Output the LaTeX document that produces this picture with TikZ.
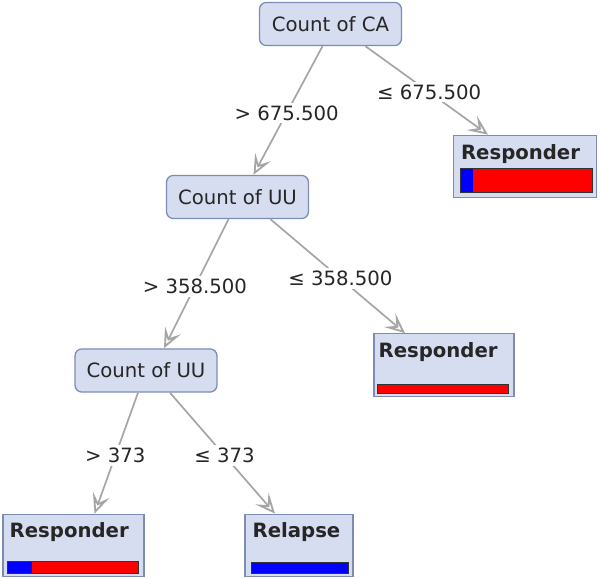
\documentclass[tikz,border=0pt]{standalone}
\usepackage{fontspec}
\setmainfont{DejaVu Sans}
\usetikzlibrary{arrows.meta,calc}
\definecolor{boxfill}{RGB}{214,221,241}
\definecolor{boxline}{RGB}{125,140,180}
\definecolor{edgegray}{RGB}{165,165,165}
\begin{document}
\begin{tikzpicture}[x=0.025cm,y=-0.025cm,every node/.style={font=\fontsize{14}{16}\selectfont,text=black!85},
  split/.style={draw=boxline,line width=0.9pt,fill=boxfill,rounded corners=5pt,minimum width=3.55cm,minimum height=1.08cm,inner sep=0pt},
  leaf/.style={draw=boxline,line width=0.9pt,fill=boxfill,minimum height=1.56cm,inner sep=0pt},
  title/.style={anchor=base west,inner sep=0pt,font=\fontsize{14}{16}\selectfont\bfseries},
  edge/.style={draw=edgegray,line width=1.2pt,-{Stealth[open,length=5mm,width=4.4mm,inset=2.2mm,line width=1.3pt]}},
  lab/.style={fill=white,inner sep=2pt,pos=0.52}]
\useasboundingbox (0,0) rectangle (600,579);
\node[split] (ca) at (330.5,24) {Count of CA};
\node[split] (uu1) at (237.5,197) {Count of UU};
\node[split] (uu2) at (146,370.5) {Count of UU};
\node[leaf,minimum width=3.58cm] (r1) at (525,166.5) {};
\node[leaf,minimum width=3.5cm] (r2) at (444,365) {};
\node[leaf,minimum width=3.52cm] (r3) at (73.5,545.5) {};
\node[leaf,minimum width=2.7cm] (rl) at (299,545.5) {};
\node[title] (t1) at ($(r1.north west)+(8,25)$) {Responder};
\node[title] (t2) at ($(r2.north west)+(5,24)$) {Responder};
\node[title] (t3) at ($(r3.north west)+(7,24)$) {Responder};
\node[title] (t4) at ($(rl.north west)+(8,24)$) {Relapse};
\fill[blue] ($(r1.south west)+(8,-6)$) rectangle ($(r1.south west)+(20,-30)$);
\fill[red] ($(r1.south west)+(20,-6)$) rectangle ($(r1.south east)+(-5,-30)$);
\draw[black!80] ($(r1.south west)+(8,-6)$) rectangle ($(r1.south east)+(-5,-30)$);
\fill[red] ($(r2.south west)+(4,-4)$) rectangle ($(r2.south east)+(-6,-13)$);
\draw[black!80] ($(r2.south west)+(4,-4)$) rectangle ($(r2.south east)+(-6,-13)$);
\fill[blue] ($(r3.south west)+(5,-4)$) rectangle ($(r3.south west)+(30,-16)$);
\fill[red] ($(r3.south west)+(30,-4)$) rectangle ($(r3.south east)+(-6,-16)$);
\draw[black!80] ($(r3.south west)+(5,-4)$) rectangle ($(r3.south east)+(-6,-16)$);
\fill[blue] ($(rl.south west)+(7,-4)$) rectangle ($(rl.south east)+(-5,-15)$);
\draw[black!80] ($(rl.south west)+(7,-4)$) rectangle ($(rl.south east)+(-5,-15)$);
\draw[edge] ($(ca.south)+(-8,0)$) -- node[lab] {> 675.500} ($(uu1.north)+(16,0)$);
\draw[edge] ($(ca.south)+(35,0)$) -- node[lab] {≤ 675.500} ($(r1.north)+(-37,0)$);
\draw[edge] ($(uu1.south)+(-9,0)$) -- node[lab] {> 358.500} ($(uu2.north)+(18,0)$);
\draw[edge] ($(uu1.south)+(33,0)$) -- node[lab] {≤ 358.500} ($(r2.north)+(-39,0)$);
\draw[edge] ($(uu2.south)+(-8,0)$) -- node[lab] {> 373} ($(r3.north)+(21,0)$);
\draw[edge] ($(uu2.south)+(24,0)$) -- node[lab] {≤ 373} ($(rl.north)+(-24,0)$);
\end{tikzpicture}
\end{document}
